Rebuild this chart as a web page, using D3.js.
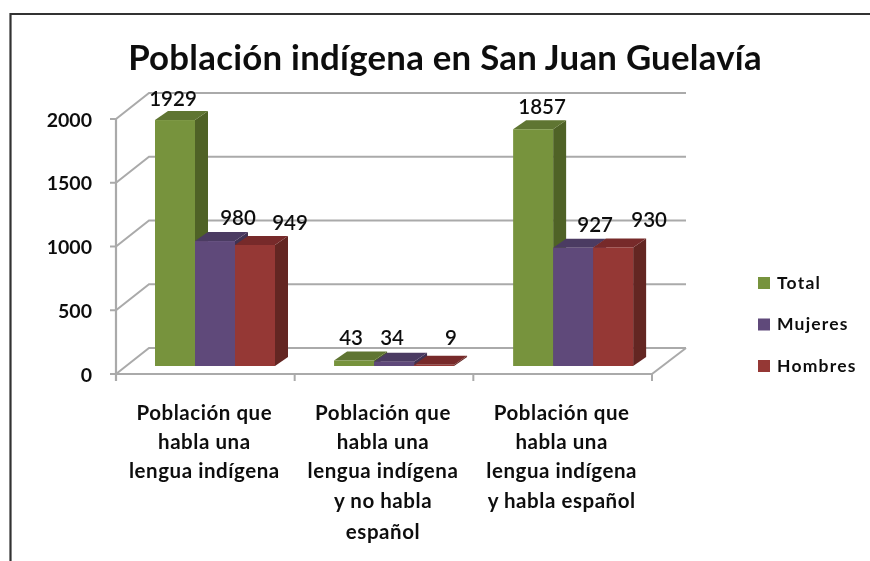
<!DOCTYPE html>
<html><head><meta charset="utf-8">
<script src="https://cdn.jsdelivr.net/npm/d3@7/dist/d3.min.js"></script>
<style>html,body{margin:0;padding:0;background:#fff}svg{display:block}</style>
</head><body><svg id="c" width="870" height="561"></svg>
<script>
const categories = [
  ["Población que","habla una","lengua indígena"],
  ["Población que","habla una","lengua indígena","y no habla","español"],
  ["Población que","habla una","lengua indígena","y habla español"]
];
const seriesNames = ["Total","Mujeres","Hombres"];
const total = [1929,43,1857];
const mujeres = [980,34,927];
const hombres = [949,9,930];
const yTicks = [0,500,1000,1500,2000];
const title = "Población indígena en San Juan Guelavía";

const front = ["#77933c","#5f497a","#953735"];
const side  = ["#4f6228","#403152","#632523"];
const top_  = ["#5f7530","#4c3a62","#772c2a"];
// hand placement of the data labels relative to bar top, as in the original
const nudge = [
  [[-2,-19.5],[23,-21.5],[35,-20.5]],
  [[-3,-20.5],[-2,-21.5],[17,-25.5]],
  [[9,-20.5],[22,-21.5],[36,-25.5]]
];

const values = [total,mujeres,hombres];
const svg = d3.select("#c");
const FONT = "Lato, 'Open Sans', sans-serif";
const root = svg.append("g").attr("filter","url(#soft)");
svg.append("defs").append("filter").attr("id","soft")
  .attr("x",0).attr("y",0).attr("width",1).attr("height",1)
  .attr("filterUnits","objectBoundingBox")
  .append("feGaussianBlur").attr("stdDeviation",0.55);
root.append("rect").attr("width",870).attr("height",561).attr("fill","#fff");

// outer frame
root.append("path").attr("d","M10.5,561V14H870").attr("fill","none").attr("stroke","#333").attr("stroke-width",2.2);

const x = d3.scaleBand().domain(d3.range(categories.length)).range([116,652]);
const y = d3.scaleLinear().domain([0,2000]).range([374,119]);
const backDx = 33, backDy = -26;
const barW = 40, barDx = 13, barDy = -9, barBase = -8, barStart = 39;

const grid = "#aaaaaa";
// walls & gridlines
yTicks.forEach(t=>{
  const yy = y(t);
  root.append("path")
    .attr("d",d3.line()([[116,yy],[116+backDx,yy+backDy],[652+backDx+1,yy+backDy]]))
    .attr("fill","none").attr("stroke",grid).attr("stroke-width",2);
  root.append("line").attr("x1",110).attr("x2",116).attr("y1",yy).attr("y2",yy).attr("stroke",grid).attr("stroke-width",2);
});
root.append("path").attr("d",d3.line()([[652,374],[652+backDx+1,374+backDy]])).attr("fill","none").attr("stroke",grid).attr("stroke-width",2);
root.append("line").attr("x1",116).attr("x2",116).attr("y1",y(2000)).attr("y2",381).attr("stroke",grid).attr("stroke-width",2.2);
root.append("line").attr("x1",110).attr("x2",652).attr("y1",374).attr("y2",374).attr("stroke",grid).attr("stroke-width",2.2);
[1,2,3].forEach(i=>{
  const px = 116 + i*x.step();
  root.append("line").attr("x1",px).attr("x2",px).attr("y1",374).attr("y2",381).attr("stroke",grid).attr("stroke-width",2);
});

// bars
categories.forEach((c,ci)=>{
  values.forEach((vals,si)=>{
    const x0 = x(ci)+barStart+si*barW+(ci===0?0:ci*0.4), x1 = x0+barW;
    const yb = y(0)+barBase, yt = y(vals[ci])+barBase;
    const g = root.append("g");
    g.append("path").attr("fill",side[si])
      .attr("d",d3.line()([[x1,yb],[x1+barDx,yb+barDy],[x1+barDx,yt+barDy],[x1,yt]])+"Z");
    g.append("path").attr("fill",top_[si])
      .attr("d",d3.line()([[x0,yt],[x0+barDx,yt+barDy],[x1+barDx,yt+barDy],[x1,yt]])+"Z");
    g.append("rect").attr("x",x0).attr("y",yt).attr("width",barW).attr("height",yb-yt).attr("fill",front[si]);
  });
});
// data labels above all bars
categories.forEach((c,ci)=>{
  values.forEach((vals,si)=>{
    const x0 = x(ci)+barStart+si*barW+(ci===0?0:ci*0.4);
    const yt = y(vals[ci])+barBase;
    const n = nudge[ci][si];
    root.append("text").attr("x",x0+barW/2+n[0]).attr("y",yt+n[1])
      .attr("text-anchor","middle").attr("dominant-baseline","middle")
      .attr("font-family",FONT).attr("font-size",20.5).attr("font-weight",600).attr("fill","#111")
      .text(vals[ci]);
  });
});

// title
root.append("text").attr("x",445).attr("y",70).attr("text-anchor","middle")
  .attr("font-family",FONT).attr("font-size",34.8).attr("font-weight",700).attr("letter-spacing",0.25).attr("fill","#111").text(title);

// y tick labels
yTicks.forEach(t=>{
  root.append("text").attr("x",92).attr("y",y(t)+2.5).attr("text-anchor","end").attr("dominant-baseline","middle")
    .attr("font-family",FONT).attr("font-size",19.5).attr("font-weight",700).attr("fill","#111").text(t);
});

// category labels
const lineY = [415,444,473,503,534];
categories.forEach((c,ci)=>{
  c.forEach((ln,li)=>{
    root.append("text").attr("x",x(ci)+x.bandwidth()/2-1).attr("y",lineY[li]).attr("text-anchor","middle").attr("dominant-baseline","middle")
      .attr("font-family",FONT).attr("font-size",20.5).attr("font-weight",700).attr("letter-spacing",0.55).attr("fill","#111").text(ln);
  });
});

// legend
const legY = d3.scalePoint().domain(seriesNames).range([283,366]);
seriesNames.forEach((s,i)=>{
  root.append("rect").attr("x",758).attr("y",legY(s)-6).attr("width",12).attr("height",12).attr("fill",front[i]);
  root.append("text").attr("x",777).attr("y",legY(s)+1.5).attr("dominant-baseline","middle")
    .attr("font-family",FONT).attr("font-size",17.5).attr("font-weight",700).attr("letter-spacing",1.2).attr("fill","#111").text(s);
});
</script></body></html>
